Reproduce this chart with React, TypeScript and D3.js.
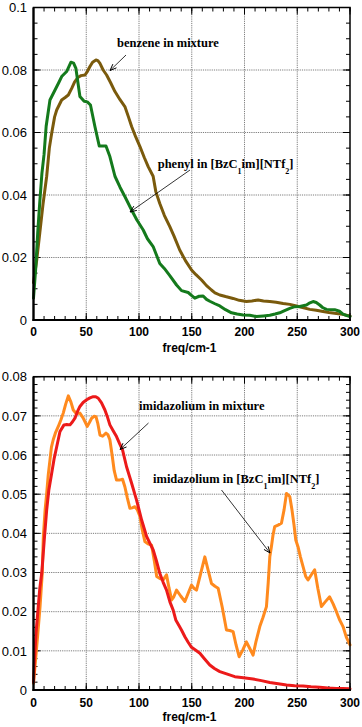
import React from "react";
import * as d3 from "d3";

// ---------- DATA ----------
const phenylFreq = [0, 2, 4, 6, 8, 10, 12, 15.6, 20.4, 24, 26.7, 31.4, 35.5, 38, 40.2, 44, 48, 51, 54, 58.2, 62.3, 68.7, 72.4, 77.2, 82, 86.6, 93, 98, 104, 108, 113.4, 119.7, 124, 129.2, 135.6, 140.3, 146.6, 150, 152.9, 157, 160.8, 164, 167.1, 172, 176.6, 182, 187.7, 193, 198.7, 205, 211.4, 218, 224, 229, 233.4, 238, 242.9, 247, 252.4, 258.7, 262, 265, 268, 271.3, 274, 277.7, 285.5, 290, 293.4, 297, 300];
const phenylVals = [0.007, 0.016, 0.028, 0.038, 0.047, 0.053, 0.062, 0.0704, 0.0736, 0.076, 0.0779, 0.0795, 0.0825, 0.0822, 0.0805, 0.0715, 0.07, 0.0698, 0.0688, 0.0619, 0.0557, 0.0557, 0.0523, 0.046, 0.0425, 0.0395, 0.0352, 0.032, 0.0288, 0.026, 0.0235, 0.0181, 0.0165, 0.0142, 0.0112, 0.0094, 0.0088, 0.0078, 0.007, 0.0076, 0.0077, 0.0066, 0.006, 0.0052, 0.0045, 0.0033, 0.0023, 0.0019, 0.0016, 0.0015, 0.0011, 0.0013, 0.0015, 0.0019, 0.0023, 0.003, 0.0037, 0.0042, 0.0043, 0.0048, 0.0055, 0.0059, 0.0056, 0.0048, 0.004, 0.0034, 0.0033, 0.0028, 0.0019, 0.0014, 0.0011];

const benzeneFreq = [0, 3, 6, 9, 12.5, 15, 17.2, 20, 22, 26.7, 30, 33, 36.2, 39, 42.4, 45, 48.8, 51, 53.5, 56, 59.2, 61, 63, 66, 69.3, 73, 77.2, 82, 86.6, 90, 93, 97, 100.9, 105, 108.7, 113.4, 116, 119.7, 124, 129.2, 133, 138.6, 144, 149.8, 154, 159.3, 164, 168.7, 172, 176.6, 182, 189.2, 195, 201.8, 207, 212.9, 218, 224, 230, 236.6, 243, 249.2, 255, 261.9, 268, 274.5, 280, 287.1, 293, 300];
const benzeneVals = [0.012, 0.019, 0.028, 0.037, 0.046, 0.055, 0.0597, 0.065, 0.0672, 0.0704, 0.0712, 0.072, 0.0741, 0.0762, 0.0777, 0.0782, 0.0784, 0.0795, 0.0811, 0.0825, 0.0832, 0.083, 0.0821, 0.08, 0.0784, 0.076, 0.0731, 0.0705, 0.0683, 0.065, 0.0619, 0.0585, 0.0555, 0.052, 0.0491, 0.046, 0.041, 0.0373, 0.0335, 0.0299, 0.027, 0.0224, 0.019, 0.016, 0.0145, 0.0128, 0.011, 0.0096, 0.0087, 0.008, 0.0075, 0.0069, 0.0063, 0.0059, 0.0061, 0.0064, 0.0061, 0.0059, 0.0057, 0.0053, 0.005, 0.0045, 0.004, 0.0034, 0.0031, 0.0027, 0.0024, 0.0021, 0.0018, 0.0013];

const imMixFreq = [0, 1, 2.4, 4.5, 6, 7.8, 10.2, 12.5, 14.5, 17.2, 19.5, 22, 25.1, 28.9, 31.5, 34.6, 37, 39.3, 41.5, 44, 47, 50.4, 53.5, 56.6, 59, 61.4, 64.5, 67.7, 70, 72.4, 75.5, 78.7, 81.5, 84.4, 88.2, 93, 97.7, 102.5, 107.2, 111.9, 113.4, 116.5, 119.7, 122.9, 126.1, 129.3, 132.4, 135, 138, 140.5, 143.5, 146.6, 149.8, 153.5, 157.7, 162, 167.1, 171.5, 176.6, 183, 190.8, 199, 208.1, 216, 224, 232, 239.8, 247.5, 255.5, 263, 271.3, 279, 287.1, 293, 300];
const imMixVals = [0.002, 0.008, 0.0145, 0.0213, 0.026, 0.0298, 0.0383, 0.046, 0.051, 0.0553, 0.059, 0.0621, 0.066, 0.0677, 0.0678, 0.0677, 0.0685, 0.0694, 0.071, 0.0724, 0.0734, 0.0741, 0.0746, 0.0749, 0.0749, 0.0745, 0.0733, 0.0715, 0.0698, 0.0677, 0.0662, 0.0647, 0.063, 0.0613, 0.057, 0.0528, 0.0485, 0.0434, 0.0392, 0.0366, 0.0358, 0.033, 0.0298, 0.0275, 0.0255, 0.0225, 0.0204, 0.0178, 0.0164, 0.0152, 0.0136, 0.0122, 0.0109, 0.0102, 0.0094, 0.008, 0.0064, 0.0055, 0.0047, 0.0041, 0.0034, 0.0031, 0.0028, 0.0024, 0.0019, 0.0016, 0.0013, 0.0011, 0.001, 0.0008, 0.0007, 0.0005, 0.0004, 0.0004, 0.0003];

const imIlFreq = [0, 1.4, 3.6, 6.2, 8.3, 9.3, 11, 12.5, 14, 15.6, 17, 18.7, 21, 23.5, 26, 28.2, 30.5, 33, 35.5, 37.7, 40.5, 44, 47, 50.9, 53, 55.1, 57.5, 59.2, 61, 63, 65.5, 68.7, 70.5, 72.4, 74.5, 76.5, 78.7, 81.5, 84.4, 86.6, 89, 91.4, 93.5, 96.1, 98.5, 100.9, 103, 105.6, 108.5, 111.9, 114.5, 116.8, 119.5, 122.9, 126.1, 128.5, 130.9, 133, 135.6, 139.5, 143.5, 146.6, 149.8, 152, 154.5, 158.5, 162.4, 165.5, 168.7, 172, 175, 179, 182.9, 186, 189.2, 192, 194.9, 198.5, 201.8, 205, 208.1, 211, 214.5, 217.5, 220.8, 222.5, 224, 225.5, 227, 228.6, 231.8, 235, 237.5, 239.8, 242.9, 245, 247, 248.6, 250.7, 253, 255.5, 258, 260.2, 263.5, 266.5, 269.5, 272.9, 276.5, 280.7, 284, 287.1, 290, 293.4, 296.5, 300];
const imIlVals = [0.0017, 0.006, 0.0128, 0.0213, 0.0298, 0.039, 0.046, 0.0502, 0.055, 0.0587, 0.062, 0.0639, 0.0658, 0.0673, 0.069, 0.0707, 0.073, 0.0751, 0.0735, 0.0715, 0.0706, 0.0707, 0.0695, 0.0673, 0.0683, 0.0694, 0.0699, 0.0698, 0.068, 0.0651, 0.0648, 0.0656, 0.0652, 0.0639, 0.06, 0.056, 0.0536, 0.0536, 0.0538, 0.0519, 0.049, 0.0464, 0.0465, 0.0468, 0.046, 0.0443, 0.041, 0.0379, 0.0373, 0.037, 0.033, 0.029, 0.0285, 0.0281, 0.0294, 0.026, 0.023, 0.0238, 0.0255, 0.024, 0.0226, 0.0247, 0.0268, 0.026, 0.0255, 0.0298, 0.034, 0.0306, 0.0272, 0.0265, 0.026, 0.021, 0.0153, 0.0152, 0.0149, 0.0115, 0.0085, 0.0103, 0.0123, 0.0106, 0.0089, 0.0125, 0.0162, 0.0185, 0.0213, 0.0275, 0.034, 0.0366, 0.0395, 0.0417, 0.0421, 0.0426, 0.046, 0.0502, 0.0494, 0.046, 0.042, 0.0383, 0.0366, 0.034, 0.0315, 0.029, 0.0281, 0.0295, 0.0307, 0.026, 0.0213, 0.0225, 0.0238, 0.022, 0.02, 0.018, 0.0162, 0.0135, 0.0115];

const xTicks = [0, 50, 100, 150, 200, 250, 300];
const topYTicks = [0, 0.02, 0.04, 0.06, 0.08, 0.1];
const topYLabels = ["0", "0.02", "0.04", "0.06", "0.08", "0.1"];
const botYTicks = [0, 0.01, 0.02, 0.03, 0.04, 0.05, 0.06, 0.07, 0.08];
const botYLabels = ["0", "0.01", "0.02", "0.03", "0.04", "0.05", "0.06", "0.07", "0.08"];
const xLabel = "freq/cm-1";

// ---------- LAYOUT ----------
const W = 362, H = 727;
const LEFT = 33.5, RIGHT = 350;
const SANS = "'Liberation Sans', Arial, Helvetica, sans-serif";
const SERIF = "'Liberation Serif', 'Times New Roman', Times, serif";

type Series = { f: number[]; v: number[]; color: string };

function Panel(props: {
  top: number; bottom: number; yMax: number; yTicks: number[]; yLabels: string[];
  yMinorStep: number; series: Series[]; xLabelY: number; tickLabelY: number;
  children?: React.ReactNode;
}) {
  const { top, bottom, yMax, yTicks, yLabels, yMinorStep, series } = props;
  const x = d3.scaleLinear().domain([0, 300]).range([LEFT, RIGHT]);
  const y = d3.scaleLinear().domain([0, yMax]).range([bottom, top]);
  const xMinor = d3.range(0, 301, 10);
  const yMinor = d3.range(0, Math.round(yMax / yMinorStep) + 1).map((i) => i * yMinorStep);
  const line = d3.line<[number, number]>().x((d) => x(d[0])).y((d) => y(d[1]));
  return (
    <g>
      {/* grid */}
      {xTicks.slice(1, -1).map((t) => (
        <line key={"gx" + t} x1={x(t)} x2={x(t)} y1={top} y2={bottom} stroke="#7d7d7d" strokeWidth={1} strokeDasharray="1.2,1" />
      ))}
      {yTicks.slice(1, -1).map((t) => (
        <line key={"gy" + t} x1={LEFT} x2={RIGHT} y1={y(t)} y2={y(t)} stroke="#7d7d7d" strokeWidth={1} strokeDasharray="1.2,1" />
      ))}
      {/* minor ticks */}
      {xMinor.map((t) => (
        <g key={"mx" + t}>
          <line x1={x(t)} x2={x(t)} y1={bottom} y2={bottom - 4} stroke="#000" strokeWidth={1} />
          <line x1={x(t)} x2={x(t)} y1={top} y2={top + 4} stroke="#000" strokeWidth={1} />
        </g>
      ))}
      {yMinor.map((t) => (
        <g key={"my" + t}>
          <line x1={LEFT} x2={LEFT + 4} y1={y(t)} y2={y(t)} stroke="#000" strokeWidth={1} />
          <line x1={RIGHT} x2={RIGHT - 4} y1={y(t)} y2={y(t)} stroke="#000" strokeWidth={1} />
        </g>
      ))}
      {/* major ticks */}
      {xTicks.map((t) => (
        <g key={"Mx" + t}>
          <line x1={x(t)} x2={x(t)} y1={bottom} y2={bottom - 7} stroke="#000" strokeWidth={1} />
          <line x1={x(t)} x2={x(t)} y1={top} y2={top + 7} stroke="#000" strokeWidth={1} />
        </g>
      ))}
      {yTicks.map((t) => (
        <g key={"My" + t}>
          <line x1={LEFT} x2={LEFT + 7} y1={y(t)} y2={y(t)} stroke="#000" strokeWidth={1} />
          <line x1={RIGHT} x2={RIGHT - 7} y1={y(t)} y2={y(t)} stroke="#000" strokeWidth={1} />
        </g>
      ))}
      {/* curves */}
      {series.map((s, i) => (
        <path key={"s" + i} d={line(s.f.map((f, j) => [f, s.v[j]] as [number, number])) || ""} fill="none" stroke={s.color} strokeWidth={3} strokeLinejoin="round" strokeLinecap="round" />
      ))}
      {/* frame */}
      <rect x={LEFT} y={top} width={RIGHT - LEFT} height={bottom - top} fill="none" stroke="#000" strokeWidth={1.5} />
      <line x1={LEFT} x2={LEFT} y1={top} y2={bottom + 1} stroke="#000" strokeWidth={2.2} />
      <line x1={LEFT - 1} x2={RIGHT + 1} y1={bottom} y2={bottom} stroke="#000" strokeWidth={2.2} />
      {/* labels */}
      {yTicks.map((t, i) => (
        <text key={"yl" + t} x={LEFT - 6.5} y={y(t)} dy="0.36em" textAnchor="end" fontFamily={SANS} fontSize={13} fill="#000">
          {yLabels[i]}
        </text>
      ))}
      {xTicks.map((t) => (
        <text key={"xl" + t} x={x(t)} y={props.tickLabelY} textAnchor="middle" fontFamily={SANS} fontSize={12} fontWeight="bold" fill="#000">
          {t}
        </text>
      ))}
      <text x={189.5} y={props.xLabelY} textAnchor="middle" fontFamily={SANS} fontSize={12} fontWeight="bold" fill="#000">
        {xLabel}
      </text>
      {props.children}
    </g>
  );
}

function Sub(props: { x: number; y: number; pre: string }) {
  return (
    <text x={props.x} y={props.y} fontFamily={SERIF} fontSize={12.5} fontWeight="bold" fill="#000">
      <tspan>{props.pre + " in [BzC"}</tspan>
      <tspan dy={6} fontSize={8}>{"1"}</tspan>
      <tspan dy={-6}>{"im][NTf"}</tspan>
      <tspan dy={6} fontSize={8}>{"2"}</tspan>
      <tspan dy={-6}>{"]"}</tspan>
    </text>
  );
}

function Arrow(props: { x1: number; y1: number; x2: number; y2: number }) {
  const { x1, y1, x2, y2 } = props;
  const a = Math.atan2(y2 - y1, x2 - x1);
  const L = 7, s = 0.38;
  const p1 = [x2 - L * Math.cos(a - s), y2 - L * Math.sin(a - s)];
  const p2 = [x2 - L * Math.cos(a + s), y2 - L * Math.sin(a + s)];
  return (
    <g>
      <line x1={x1} y1={y1} x2={x2} y2={y2} stroke="#000" strokeWidth={0.8} />
      <path d={`M${p1[0]},${p1[1]} L${x2},${y2} L${p2[0]},${p2[1]}`} fill="none" stroke="#000" strokeWidth={1} />
    </g>
  );
}

export default function App() {
  return (
    <svg width={W} height={H} viewBox={`0 0 ${W} ${H}`} style={{ position: "absolute", left: 0, top: 0, background: "#fff" }}>
      <rect x={0} y={0} width={W} height={H} fill="#fff" />
      <Panel top={7.5} bottom={320} yMax={0.1} yTicks={topYTicks} yLabels={topYLabels} yMinorStep={0.005}
        series={[{ f: benzeneFreq, v: benzeneVals, color: "#7a5a0c" }, { f: phenylFreq, v: phenylVals, color: "#147a1c" }]}
        tickLabelY={336} xLabelY={352}>
        <text x={117} y={47} fontFamily={SERIF} fontSize={12.5} fontWeight="bold" fill="#000">benzene in mixture</text>
        <Arrow x1={126} y1={55} x2={110} y2={70.5} />
        <Sub x={157.7} y={167.7} pre="phenyl" />
        <Arrow x1={190} y1={170} x2={130} y2={212} />
      </Panel>
      <Panel top={376.7} bottom={690} yMax={0.08} yTicks={botYTicks} yLabels={botYLabels} yMinorStep={0.002}
        series={[{ f: imIlFreq, v: imIlVals, color: "#ff8a1e" }, { f: imMixFreq, v: imMixVals, color: "#ec1a1a" }]}
        tickLabelY={707} xLabelY={720.5}>
        <text x={139} y={410} fontFamily={SERIF} fontSize={12.5} fontWeight="bold" fill="#000">imidazolium in mixture</text>
        <Arrow x1={148.5} y1={423} x2={120} y2={449.5} />
        <Sub x={153} y={482.7} pre="imidazolium" />
        <Arrow x1={221.5} y1={490} x2={270} y2={553} />
      </Panel>
    </svg>
  );
}
